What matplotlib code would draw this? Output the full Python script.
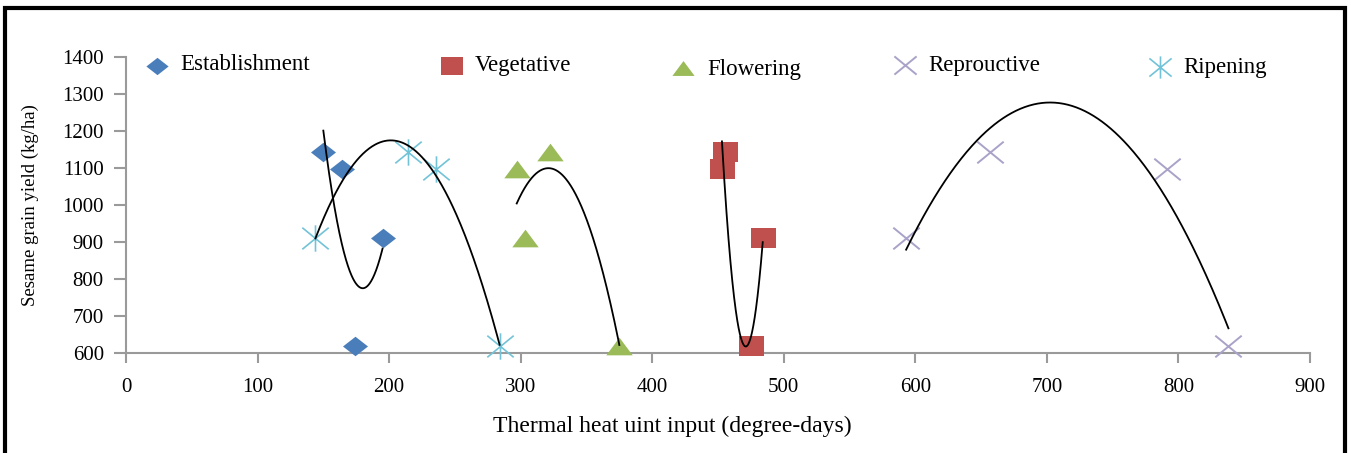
import numpy as np
import matplotlib
matplotlib.use("Agg")
import matplotlib.pyplot as plt
from matplotlib.lines import Line2D
from matplotlib.patches import Rectangle
from matplotlib.path import Path

# ---- data ----
yield_vals = [1143, 1098, 912, 618]
est_x = [150, 164, 195, 174]
veg_x = [455, 453, 484, 475]
flo_x = [322, 297, 303, 375]
rep_x = [657, 791, 593, 838]
rip_x = [214, 236, 144, 284]

series_names = ["Establishment", "Vegetative", "Flowering", "Reprouctive", "Ripening"]
xticks = [0, 100, 200, 300, 400, 500, 600, 700, 800, 900]
yticks = [600, 700, 800, 900, 1000, 1100, 1200, 1300, 1400]

plt.rcParams['font.family'] = ['Liberation Serif', 'DejaVu Serif']

W, H = 1351, 453
fig = plt.figure(figsize=(W / 100, H / 100), dpi=100)

def fx(px):
    return px / W

def fy(py):
    return 1 - py / H

# outer frame
fig.patches.append(Rectangle((fx(5), fy(470)), fx(1345) - fx(5), fy(8) - fy(470),
                             transform=fig.transFigure, fill=False, lw=3, ec='black'))

ax = fig.add_axes([fx(126), fy(353), fx(1310) - fx(126), fy(57) - fy(353)])
ax.set_xlim(0, 900)
ax.set_ylim(600, 1400)
ax.set_xticks(xticks)
ax.set_yticks(yticks)
for s in ['top', 'right']:
    ax.spines[s].set_visible(False)
for s in ['left', 'bottom']:
    ax.spines[s].set_color('#9a9a9a')
    ax.spines[s].set_linewidth(1.5)
ax.tick_params(axis='y', direction='out', length=9, width=1.5, color='#9a9a9a',
               labelsize=15, pad=7)
ax.tick_params(axis='x', direction='out', length=7, width=1.5, color='#9a9a9a',
               labelsize=15, pad=11)
ax.set_xticklabels([str(v) for v in xticks])
ax.set_yticklabels([str(v) for v in yticks])

# markers
diamond = [(-1, 0), (0, 0.78), (1, 0), (0, -0.78), (-1, 0)]
rect = [(-1, -0.8), (1, -0.8), (1, 0.8), (-1, 0.8), (-1, -0.8)]
tri = [(-1, -0.67), (1, -0.67), (0, 0.67), (-1, -0.67)]
xmark = Path([(-1, -0.82), (1, 0.82), (-1, 0.82), (1, -0.82)],
             [Path.MOVETO, Path.LINETO, Path.MOVETO, Path.LINETO])
astmark = Path([(-1, -0.82), (1, 0.82), (-1, 0.82), (1, -0.82), (0, -1), (0, 1)],
               [Path.MOVETO, Path.LINETO, Path.MOVETO, Path.LINETO, Path.MOVETO, Path.LINETO])

styles = [
    dict(marker=diamond, ms=18, color='#4a7ebb', mec='#4a7ebb', mew=0),
    dict(marker=rect, ms=18, color='#c0504d', mec='#c0504d', mew=0),
    dict(marker=tri, ms=19, color='#9bbb59', mec='#9bbb59', mew=0),
    dict(marker=xmark, ms=19, color='#aaa2c8', mec='#aaa2c8', mew=1.4, fillstyle='none'),
    dict(marker=astmark, ms=19, color='#72c3d8', mec='#72c3d8', mew=1.2, fillstyle='none'),
]
xs_all = [est_x, veg_x, flo_x, rep_x, rip_x]

for xs, st in zip(xs_all, styles):
    ax.plot(xs, yield_vals, linestyle='none', clip_on=False, zorder=3, **st)

for xs in xs_all:
    xarr = np.array(xs, dtype=float)
    c = np.polyfit(xarr, np.array(yield_vals, dtype=float), 2)
    xx = np.linspace(xarr.min(), xarr.max(), 300)
    ax.plot(xx, np.polyval(c, xx), color='black', lw=1.3, zorder=4, clip_on=False)

# legend (manual, irregular spacing as in reference)
leg_marker_px = [(157, 66), (452, 66), (683, 68), (905, 65), (1160, 67)]
leg_text_px = [(180, 64), (475, 66), (707, 69), (928, 66), (1183, 67)]
leg_ms = [16, 16, 16, 16, 16]
for (mx, my), (tx, ty), name, st, lm in zip(leg_marker_px, leg_text_px, series_names, styles, leg_ms):
    st2 = dict(st)
    st2['ms'] = lm
    fig.add_artist(Line2D([fx(mx)], [fy(my)], transform=fig.transFigure, linestyle='none', **st2))
    fig.text(fx(tx), fy(ty), name, fontsize=16.5, ha='left', va='center')

fig.text(fx(672), fy(426), "Thermal heat uint input (degree-days)", fontsize=17,
         ha='center', va='center')
fig.text(fx(30), fy(205), "Sesame grain yield (kg/ha)", fontsize=13.5, rotation=90,
         ha='center', va='center')

fig.savefig("out.png", dpi=100)
